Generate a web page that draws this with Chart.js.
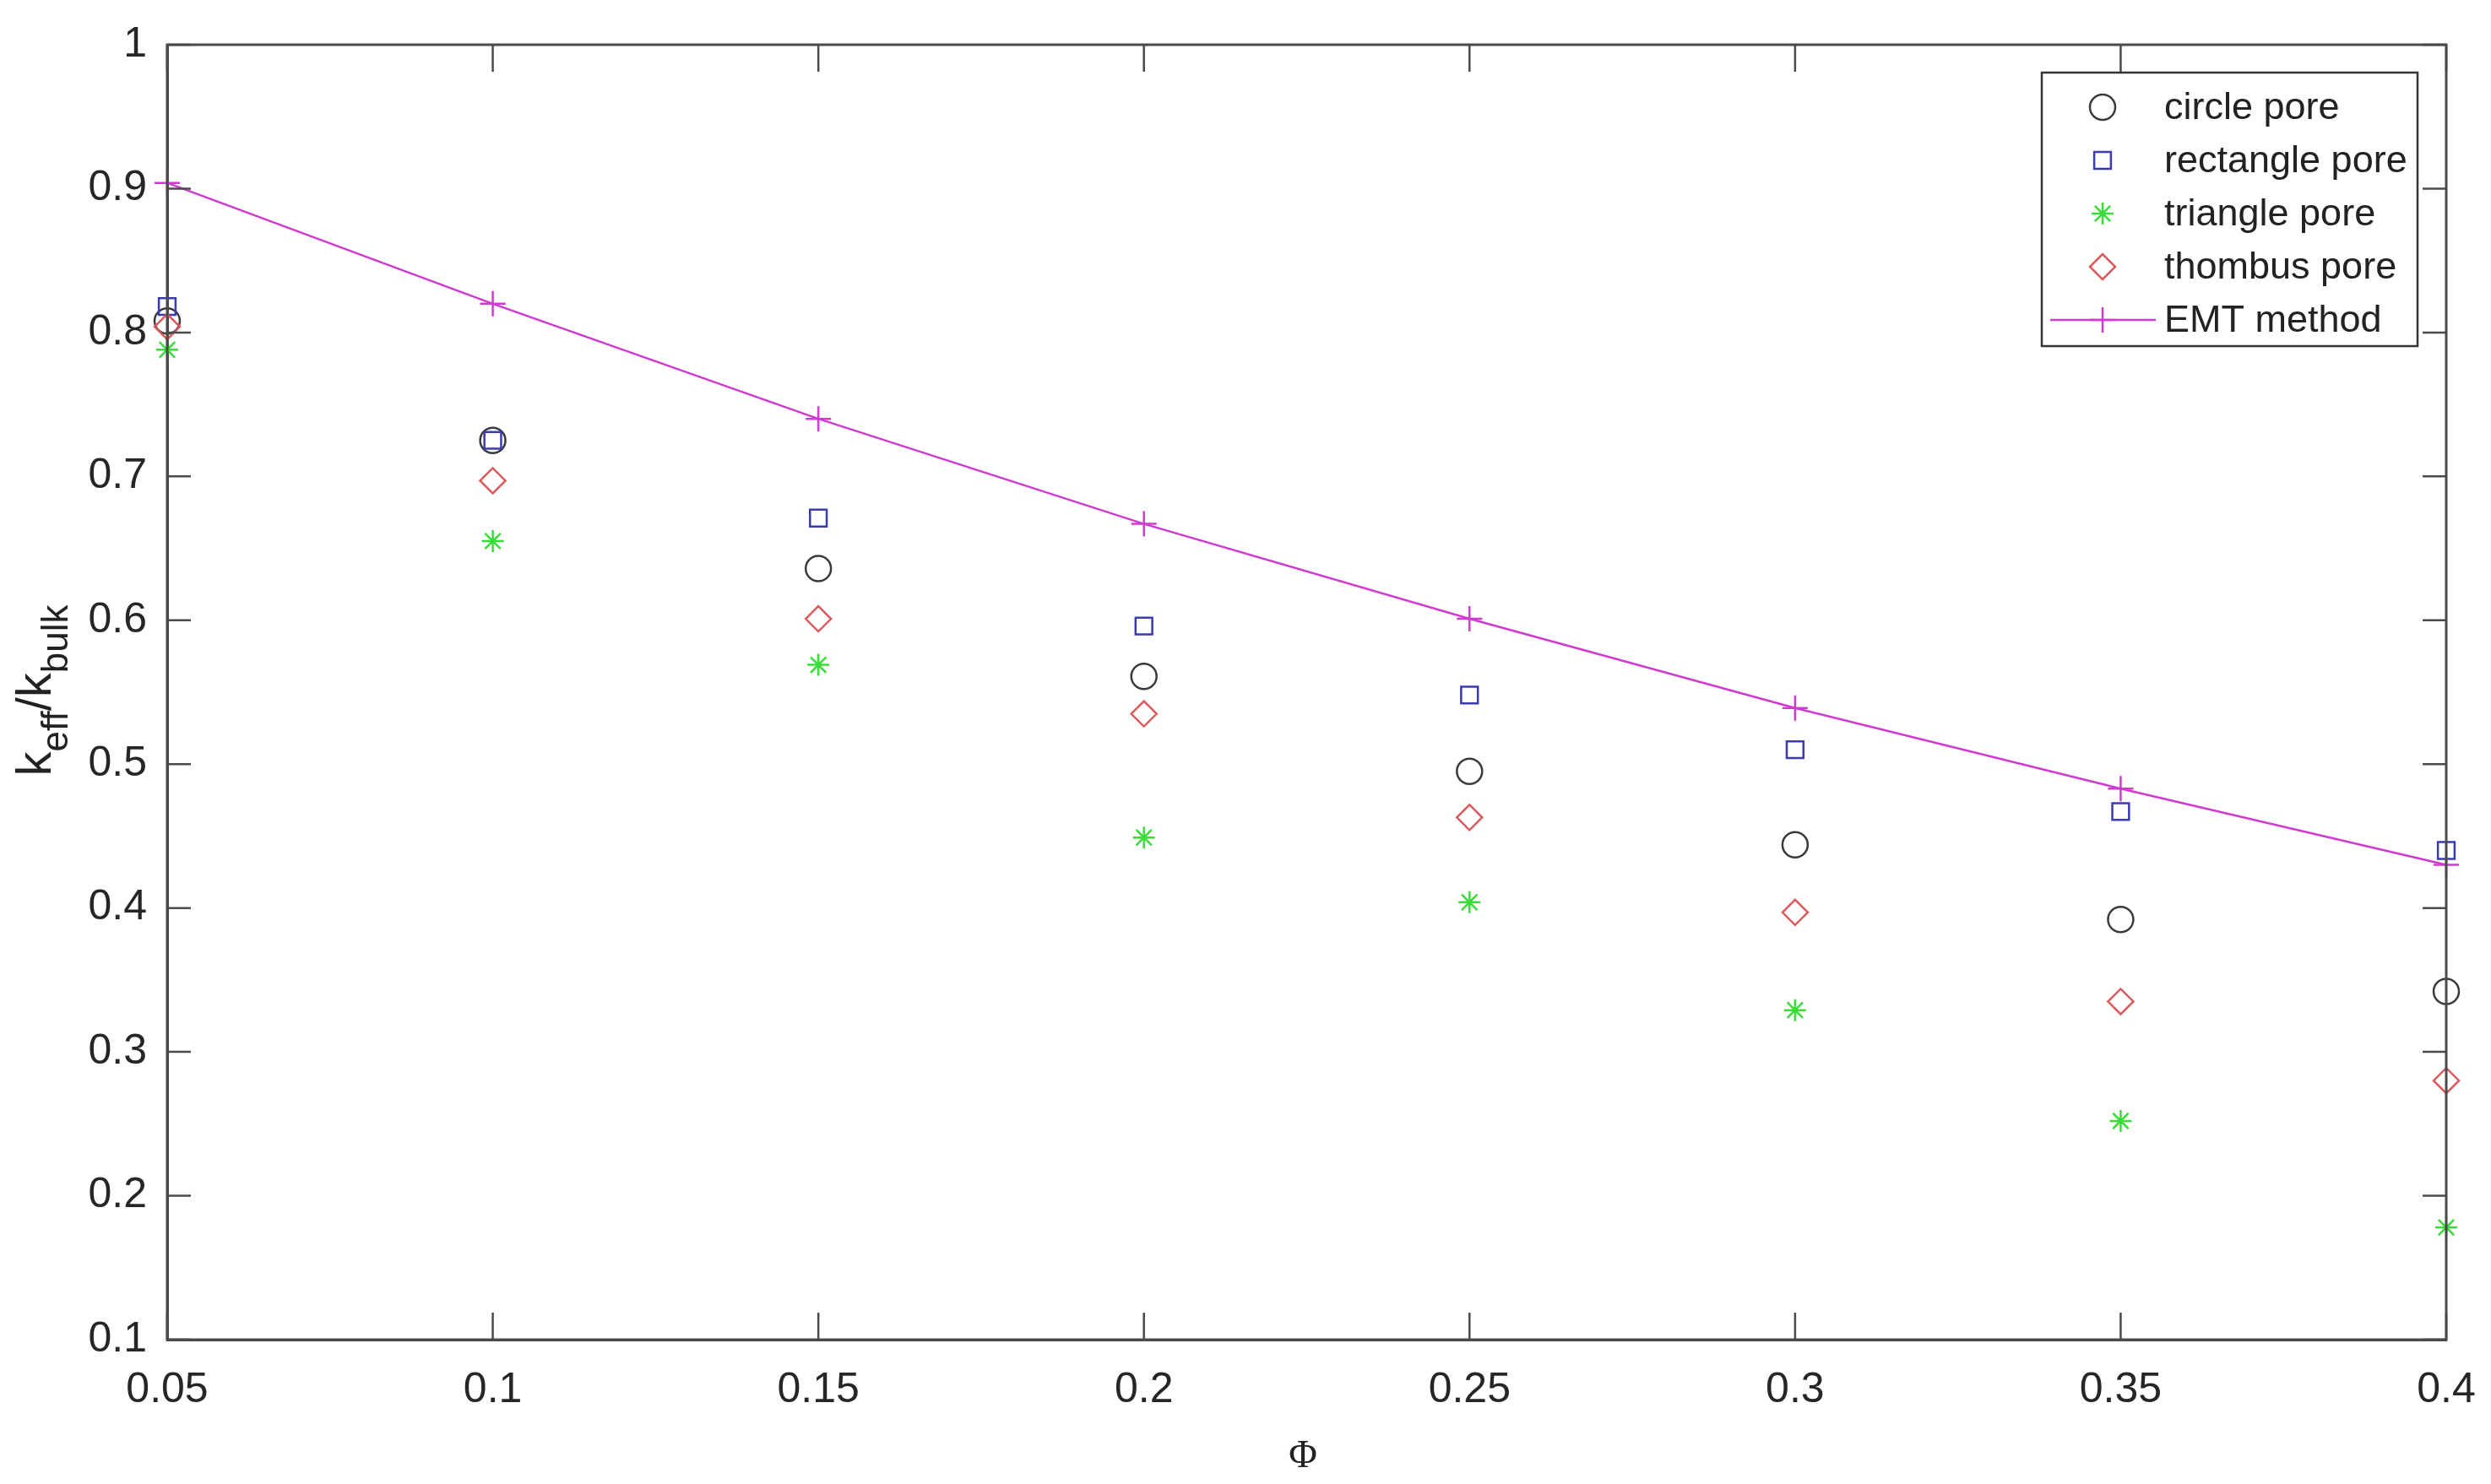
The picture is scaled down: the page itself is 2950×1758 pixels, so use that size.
<!DOCTYPE html>
<html>
<head>
<meta charset="utf-8">
<script src="https://cdn.jsdelivr.net/npm/chart.js@4/dist/chart.umd.min.js"></script>
<style>
  html, body { margin: 0; padding: 0; background: #fff; }
  #wrap { width: 2950px; height: 1758px; }
</style>
</head>
<body>
<div id="wrap"><canvas id="porechart"></canvas></div>
<script>
// porosity values on the x axis
const phi = [0.05, 0.1, 0.15, 0.2, 0.25, 0.3, 0.35, 0.4];

// k_eff / k_bulk for each pore shape
const circlePore = [0.808, 0.725, 0.636, 0.561, 0.495, 0.444, 0.392, 0.342];
const rectanglePore = [0.818, 0.725, 0.671, 0.596, 0.548, 0.510, 0.467, 0.440];
const trianglePore = [0.788, 0.655, 0.569, 0.449, 0.404, 0.329, 0.252, 0.178];
const thombusPore = [0.804, 0.697, 0.601, 0.535, 0.463, 0.397, 0.335, 0.280];
const emtMethod = [0.904, 0.820, 0.740, 0.667, 0.601, 0.539, 0.483, 0.430];

const xTicks = [0.05, 0.1, 0.15, 0.2, 0.25, 0.3, 0.35, 0.4];
const xTickLabels = ["0.05", "0.1", "0.15", "0.2", "0.25", "0.3", "0.35", "0.4"];
const yTicks = [0.1, 0.2, 0.3, 0.4, 0.5, 0.6, 0.7, 0.8, 0.9, 1];
const yTickLabels = ["0.1", "0.2", "0.3", "0.4", "0.5", "0.6", "0.7", "0.8", "0.9", "1"];

const seriesNames = ["circle pore", "rectangle pore", "triangle pore", "thombus pore", "EMT method"];

const FONT = "'Liberation Sans', Arial, sans-serif";
const axisColor = "#4a4a4a";

function pts(ys) {
	return phi.map((x, i) => ({ x: x, y: ys[i] }));
}

const styles = [
	{ color: "#3a3a3a", shape: "circle", r: 15 },
	{ color: "#3b3bb0", shape: "rect", r: 14 },
	{ color: "#38dd38", shape: "star", r: 13 },
	{ color: "#de5a5a", shape: "rectRot", r: 15 },
	{ color: "#cf3acf", shape: "cross", r: 15 }
];

// inner ticks, full box, legend and axis titles
const decor = {
	id: "decor",
	afterDraw(chart) {
		const ctx = chart.ctx;
		const a = chart.chartArea;
		const xs = chart.scales.x, ys = chart.scales.y;
		ctx.save();
		ctx.strokeStyle = axisColor;
		ctx.lineWidth = 3;
		ctx.strokeRect(a.left, a.top, a.right - a.left, a.bottom - a.top);
		ctx.lineWidth = 2.5;
		ctx.beginPath();
		xTicks.forEach(v => {
			const px = xs.getPixelForValue(v);
			ctx.moveTo(px, a.bottom); ctx.lineTo(px, a.bottom - 32);
			ctx.moveTo(px, a.top); ctx.lineTo(px, a.top + 32);
		});
		yTicks.forEach(v => {
			const py = ys.getPixelForValue(v);
			ctx.moveTo(a.left, py); ctx.lineTo(a.left + 28, py);
			ctx.moveTo(a.right, py); ctx.lineTo(a.right - 28, py);
		});
		ctx.stroke();

		// legend
		const lx = 2418, ly = 86, lw = 445, lh = 324;
		ctx.fillStyle = "#fff";
		ctx.fillRect(lx, ly, lw, lh);
		ctx.strokeStyle = "#333";
		ctx.lineWidth = 2.5;
		ctx.strokeRect(lx, ly, lw, lh);
		ctx.textBaseline = "middle";
		ctx.textAlign = "left";
		seriesNames.forEach((name, i) => {
			const cy = 127 + i * 63;
			const st = styles[i];
			ctx.strokeStyle = st.color;
			ctx.fillStyle = "rgba(0,0,0,0)";
			ctx.lineWidth = 2.5;
			if (i === 4) {
				ctx.beginPath();
				ctx.moveTo(lx + 10, cy); ctx.lineTo(lx + 135, cy);
				ctx.stroke();
			}
			Chart.helpers.drawPoint(ctx, { pointStyle: st.shape, rotation: 0, radius: st.r, borderWidth: 2.5 }, 2490, cy);
			ctx.font = "45px " + FONT;
			ctx.fillStyle = "#222";
			ctx.fillText(name, 2563, cy + 2);
		});
		ctx.restore();
	},
	beforeDraw(chart) {
		const ctx = chart.ctx;
		ctx.save();
		// y axis title with subscripts
		ctx.translate(60, 818);
		ctx.rotate(-Math.PI / 2);
		const big = "58px " + FONT, small = "44px " + FONT;
		const parts = [["k", big, 0], ["eff", small, 20], ["/k", big, 0], ["bulk", small, 20]];
		let total = 0;
		parts.forEach(p => { ctx.font = p[1]; total += ctx.measureText(p[0]).width; });
		let x = -total / 2;
		ctx.fillStyle = "#222";
		ctx.textBaseline = "alphabetic";
		parts.forEach(p => {
			ctx.font = p[1];
			ctx.fillText(p[0], x, p[2]);
			x += ctx.measureText(p[0]).width;
		});
		ctx.restore();
		// x axis title
		ctx.save();
		ctx.font = "46px 'Liberation Serif', 'Times New Roman', serif";
		ctx.fillStyle = "#222";
		ctx.textAlign = "center";
		ctx.textBaseline = "alphabetic";
		ctx.fillText("\u03A6", 1543, 1738);
		ctx.restore();
	}
};

const scatterSet = (i, ys) => ({
	label: seriesNames[i],
	data: pts(ys),
	showLine: false,
	pointStyle: styles[i].shape,
	pointRadius: styles[i].r,
	pointBorderWidth: 2.5,
	borderColor: styles[i].color,
	backgroundColor: "transparent",
	pointBackgroundColor: "transparent",
	clip: false
});

const cfg = {
	type: "scatter",
	data: {
		datasets: [
			{
				label: seriesNames[4],
				data: pts(emtMethod),
				showLine: true,
				borderColor: styles[4].color,
				borderWidth: 2.5,
				pointStyle: "cross",
				pointRadius: styles[4].r,
				pointBorderWidth: 2.5,
				backgroundColor: "transparent",
				clip: false
			},
			scatterSet(3, thombusPore),
			scatterSet(2, trianglePore),
			scatterSet(1, rectanglePore),
			scatterSet(0, circlePore)
		]
	},
	options: {
		responsive: true,
		maintainAspectRatio: false,
		animation: false,
		layout: { padding: { left: 0, top: 53, right: 53, bottom: 0 } },
		plugins: {
			legend: { display: false },
			tooltip: { enabled: false }
		},
		scales: {
			x: {
				type: "linear",
				min: 0.05,
				max: 0.4,
				afterBuildTicks: s => { s.ticks = xTicks.map(v => ({ value: v })); },
				afterFit: s => { s.height = 171; s.paddingLeft = 0; s.paddingRight = 0; },
				grid: { display: false, drawTicks: false },
				border: { display: true, color: axisColor, width: 3 },
				ticks: {
					padding: 30,
					color: "#262626",
					font: { family: FONT, size: 50 },
					callback: (v, i) => xTickLabels[i]
				}
			},
			y: {
				type: "linear",
				min: 0.1,
				max: 1,
				afterBuildTicks: s => { s.ticks = yTicks.map(v => ({ value: v })); },
				afterFit: s => { s.width = 198; s.paddingTop = 0; s.paddingBottom = 0; },
				grid: { display: false, drawTicks: false },
				border: { display: true, color: axisColor, width: 3 },
				ticks: {
					padding: 24,
					color: "#262626",
					font: { family: FONT, size: 50 },
					callback: (v, i) => yTickLabels[i]
				}
			}
		}
	},
	plugins: [decor]
};

const porechart = new Chart(document.querySelector("#porechart"), cfg);
</script>
</body>
</html>
